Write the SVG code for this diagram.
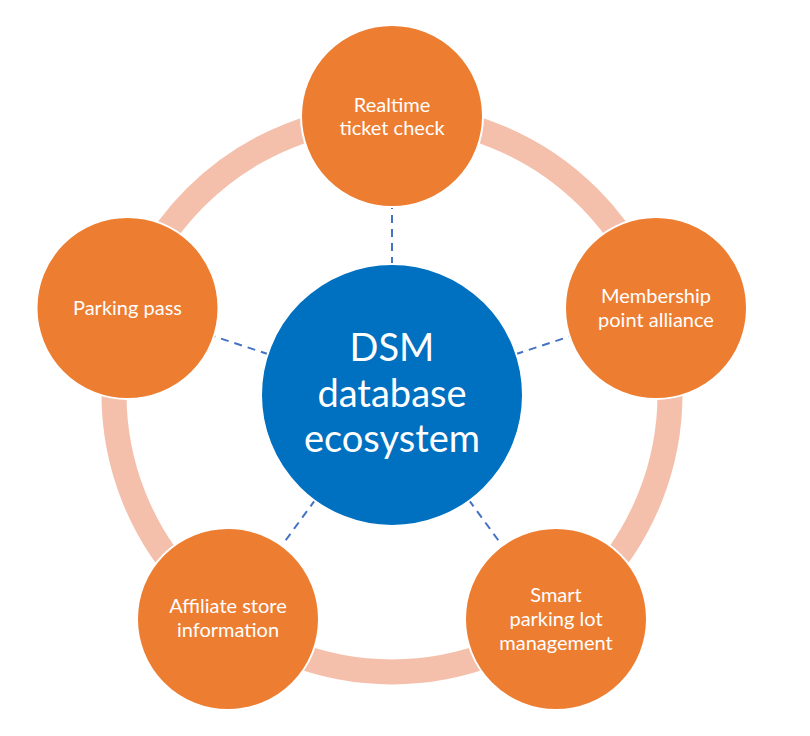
<svg xmlns="http://www.w3.org/2000/svg" width="810" height="736" viewBox="0 0 810 736">
<style>
.ring{fill:none;stroke:#F4BFAB;stroke-width:25}
.node{fill:#ED7D31;stroke:#FFFFFF;stroke-width:2}
.hub{fill:#0070C0;stroke:#FFFFFF;stroke-width:2}
.lbl{font-family:Lato,"Open Sans",sans-serif;font-size:20px;fill:#FFFFFF;text-anchor:middle}
.hubl{font-family:Lato,"Open Sans",sans-serif;font-size:38px;fill:#FFFFFF;text-anchor:middle}
.dash{stroke:#4472C4;stroke-width:2;stroke-dasharray:8 6;fill:none}
</style>
<rect width="810" height="736" fill="#FFFFFF"/>
<circle class="ring" cx="392" cy="394" r="278"/>
<g id="connectors">
<line class="dash" x1="392" y1="265" x2="392" y2="207"/>
<line class="dash" x1="515.5" y1="354.3" x2="569.6" y2="336.5"/>
<line class="dash" x1="268.5" y1="354.3" x2="214.4" y2="336.5"/>
<line class="dash" x1="468.8" y1="499.9" x2="502.2" y2="545.6"/>
<line class="dash" x1="315.2" y1="499.9" x2="281.8" y2="545.6"/>
</g>
<g id="hub">
<circle class="hub" cx="392" cy="395" r="131"/>
<text class="hubl" x="392" y="361">DSM</text>
<text class="hubl" x="392" y="407">database</text>
<text class="hubl" x="392" y="452">ecosystem</text>
</g>
<g id="node-top">
<circle class="node" cx="392" cy="116" r="91"/>
<text class="lbl" x="392" y="112">Realtime</text>
<text class="lbl" x="392" y="135">ticket check</text>
</g>
<g id="node-right">
<circle class="node" cx="656" cy="308" r="91"/>
<text class="lbl" x="656" y="303">Membership</text>
<text class="lbl" x="656" y="327">point alliance</text>
</g>
<g id="node-left">
<circle class="node" cx="127.5" cy="308" r="91"/>
<text class="lbl" x="127.5" y="315">Parking pass</text>
</g>
<g id="node-bottom-left">
<circle class="node" cx="228" cy="619" r="91"/>
<text class="lbl" x="228" y="613">Affiliate store</text>
<text class="lbl" x="228" y="637">information</text>
</g>
<g id="node-bottom-right">
<circle class="node" cx="556" cy="619" r="91"/>
<text class="lbl" x="556" y="602">Smart</text>
<text class="lbl" x="556" y="626">parking lot</text>
<text class="lbl" x="556" y="650">management</text>
</g>
</svg>
